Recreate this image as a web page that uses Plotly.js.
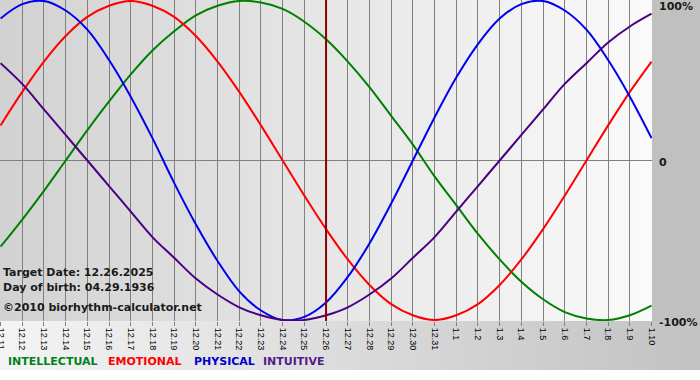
<!DOCTYPE html>
<html>
<head>
<meta charset="utf-8">
<script src="https://cdn.plot.ly/plotly-3.0.1.min.js"></script>
<style>
  html, body { margin: 0; padding: 0; background: #ffffff; }
  #wrap { position: relative; width: 700px; height: 380px; overflow: hidden; }
  .bg { position: absolute; }
  #chart { position: absolute; left: 0; top: 0; width: 700px; height: 380px; }
</style>
</head>
<body>
<div id="wrap">
  <div class="bg" style="left:0;top:0;width:652px;height:321px;background:linear-gradient(to right,#d2d2d2,#fafafa);"></div>
  <div class="bg" style="left:652px;top:0;width:48px;height:321px;background:#c0c0c0;"></div>
  <div class="bg" style="left:0;top:321px;width:700px;height:49px;background:linear-gradient(to right,#f4f4f4,#c2c2c2);"></div>
  <div id="chart"></div>
</div>
<script>
// ---- data ----
const days = ['12.11','12.12','12.13','12.14','12.15','12.16','12.17','12.18','12.19','12.20',
              '12.21','12.22','12.23','12.24','12.25','12.26','12.27','12.28','12.29','12.30',
              '12.31','1.1','1.2','1.3','1.4','1.5','1.6','1.7','1.8','1.9','1.10'];
const targetDay = '12.26';

const intellectual = [-0.54,-0.37,-0.19,0.00,0.19,0.37,0.54,0.69,0.81,0.91,0.97,1.00,0.99,0.95,0.87,
                      0.76,0.62,0.46,0.28,0.10,-0.10,-0.28,-0.46,-0.62,-0.76,-0.87,-0.95,-0.99,-1.00,-0.97,-0.91];
const emotional    = [0.22,0.43,0.62,0.78,0.90,0.97,1.00,0.97,0.90,0.78,0.62,0.43,0.22,0.00,-0.22,
                      -0.43,-0.62,-0.78,-0.90,-0.97,-1.00,-0.97,-0.90,-0.78,-0.62,-0.43,-0.22,0.00,0.22,0.43,0.62];
const physical     = [0.89,0.98,1.00,0.94,0.82,0.63,0.40,0.14,-0.14,-0.40,-0.63,-0.82,-0.94,-1.00,-0.98,
                      -0.89,-0.73,-0.52,-0.27,0.00,0.27,0.52,0.73,0.89,0.98,1.00,0.94,0.82,0.63,0.40,0.14];
const intuitive    = [0.61,0.48,0.32,0.16,0.00,-0.16,-0.32,-0.48,-0.61,-0.74,-0.84,-0.92,-0.97,-1.00,-1.00,
                      -0.97,-0.92,-0.84,-0.74,-0.61,-0.48,-0.32,-0.16,0.00,0.16,0.32,0.48,0.61,0.74,0.84,0.92];

const seriesNames  = ['INTELLECTUAL','EMOTIONAL','PHYSICAL','INTUITIVE'];
const seriesColors = ['#008000','#ff0000','#0000ee','#4b0082'];
const legendColors = ['#00801a','#ff0000','#0000cc','#551a8b'];
const infoLines = ['Target Date: 12.26.2025','Day of birth: 04.29.1936','\u00a92010 biorhythm-calculator.net'];
const yLabels = ['100%','0','-100%'];
const yLabelVals = [1,0,-1];

// ---- build ----
const allSeries = [intellectual, emotional, physical, intuitive];
const traces = allSeries.map((vals, i) => ({
  type: 'scatter', mode: 'lines', x: days, y: vals, name: seriesNames[i],
  line: { color: seriesColors[i], width: 2, shape: 'spline', smoothing: 1 },
  hoverinfo: 'skip'
}));

const PH = 321, PW = 652;
const font = 'DejaVu Sans, Verdana, sans-serif';
const annotations = [];
const infoY = [272, 287, 307];
infoLines.forEach((t, i) => annotations.push({
  xref: 'paper', yref: 'paper', x: 0, y: 1 - infoY[i] / PH, xanchor: 'left', yanchor: 'middle',
  xshift: 1, text: '<b>' + t + '</b>', showarrow: false,
  font: { family: font, size: 11, color: '#1a1a1a' }
}));
const yShift = [-6, -2, -2];
yLabels.forEach((t, i) => annotations.push({
  xref: 'paper', yref: 'y', x: 1, y: yLabelVals[i], xanchor: 'left', yanchor: 'middle',
  xshift: 5, yshift: yShift[i], text: '<b>' + t + '</b>', showarrow: false,
  font: { family: font, size: 11, color: '#1a1a1a' }
}));
const legX = [7, 107, 193, 262];
seriesNames.forEach((t, i) => annotations.push({
  xref: 'paper', yref: 'paper', x: legX[i] / PW - 0.002, y: 1 - 361 / PH, xanchor: 'left', yanchor: 'middle',
  text: '<b>' + t + '</b>', showarrow: false,
  font: { family: font, size: 11, color: legendColors[i] }
}));

const targetIdx = days.indexOf(targetDay);

const layout = {
  width: 700, height: 380,
  margin: { l: 0, r: 48, t: 0, b: 59, pad: 0 },
  paper_bgcolor: 'rgba(0,0,0,0)', plot_bgcolor: 'rgba(0,0,0,0)',
  showlegend: false,
  xaxis: {
    type: 'category', range: [-0.025, days.length - 1 + 0.02],
    tickmode: 'array', tickvals: days, ticktext: days,
    showgrid: true, gridcolor: '#808080', gridwidth: 1,
    ticks: 'outside', ticklen: 4, tickcolor: '#808080', tickwidth: 1,
    tickangle: 90, tickfont: { family: 'Liberation Sans, Arial, sans-serif', size: 9, color: '#000' },
    showline: false, zeroline: false, fixedrange: true
  },
  yaxis: {
    range: [-1.006, 1.006], showgrid: false, showticklabels: false, ticks: '',
    zeroline: true, zerolinecolor: '#808080', zerolinewidth: 1, showline: false, fixedrange: true
  },
  shapes: [{
    type: 'line', xref: 'x', yref: 'paper', x0: targetIdx, x1: targetIdx, y0: 0, y1: 1,
    line: { color: '#8b0000', width: 2 }, layer: 'above'
  }],
  annotations: annotations
};

Plotly.newPlot('chart', traces, layout, { displayModeBar: false, staticPlot: true });
</script>
</body>
</html>
